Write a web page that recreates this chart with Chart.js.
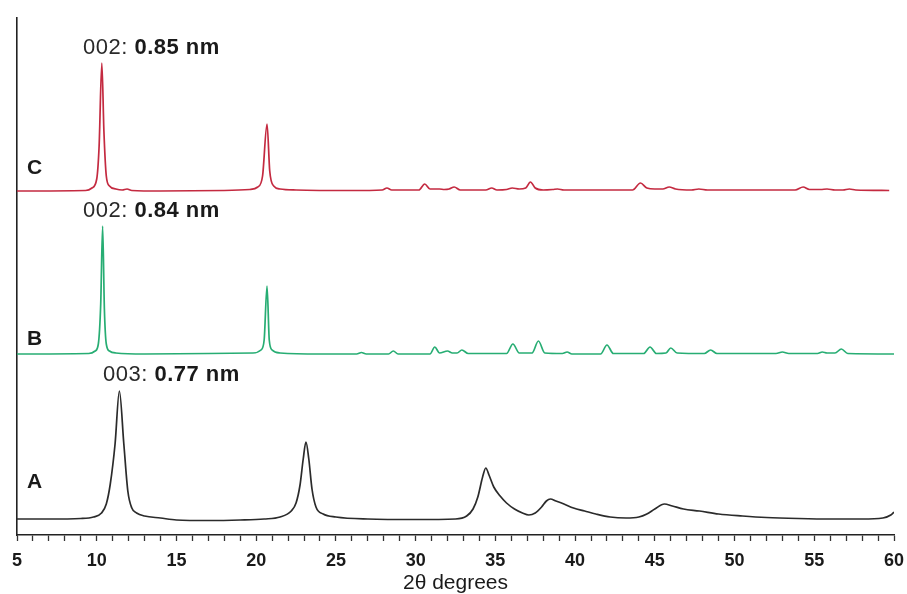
<!DOCTYPE html>
<html>
<head>
<meta charset="utf-8">
<script src="https://cdn.jsdelivr.net/npm/chart.js@4"></script>
<style>
  html, body { margin: 0; padding: 0; background: #fff; }
  #wrap { width: 907px; height: 594px; }
</style>
</head>
<body>
<div id="wrap"><canvas id="xrd"></canvas></div>
<script>
// 2-theta positions and intensities (intensity above each trace's own baseline)
const xsA = [5, 7, 9, 9.8, 10.3, 10.6, 10.85, 11.15, 11.42, 11.7, 11.95, 12.2, 12.5, 13, 14, 15, 17, 19, 20.5, 21.5, 22.2, 22.5, 22.75, 22.95, 23.12, 23.3, 23.5, 23.75, 24.2, 25, 27, 30, 32.5, 33.2, 33.6, 33.9, 34.2, 34.4, 34.6, 34.9, 35.3, 35.7, 36.2, 36.7, 37.1, 37.5, 37.9, 38.2, 38.45, 38.8, 39.3, 39.9, 40.6, 41.3, 42.2, 43.2, 44, 44.5, 45, 45.6, 46.1, 46.8, 47.8, 49, 50.5, 52, 54, 56, 58, 59.3, 59.8, 60];
const ysA = [0, 0, 0.5, 2, 6, 15, 35, 75, 128, 75, 28, 11, 6, 3, 1, -1, -1.5, -1, 0, 2, 8, 16, 34, 60, 77, 60, 30, 12, 5, 2, 0, -0.5, 0, 3, 10, 22, 42, 51, 44, 32, 23, 16, 10, 6, 4, 6, 12, 18, 20, 18, 15, 11, 8, 5, 2, 1, 2, 5, 10, 15, 13, 10, 8, 5, 3, 1.5, 0.5, 0, 0, 1, 4, 7];

const xsB = [5, 9.5, 9.9, 10.1, 10.25, 10.37, 10.48, 10.6, 10.8, 11.2, 13, 17, 19.8, 20.3, 20.5, 20.68, 20.82, 21, 21.5, 24, 26.3, 26.6, 26.9, 28.3, 28.6, 28.9, 30.9, 31.2, 31.5, 32, 32.3, 32.6, 32.9, 33.3, 35.7, 36.1, 36.5, 37.3, 37.7, 38.1, 39.2, 39.5, 39.8, 41.6, 42, 42.4, 44.3, 44.7, 45.1, 45.7, 46, 46.4, 48.1, 48.5, 48.9, 52.6, 53, 53.4, 55.2, 55.5, 55.8, 56.3, 56.7, 57.1, 60];
const ysB = [0, 0.5, 3, 10, 50, 128, 45, 10, 3, 1, 0, 0.5, 1, 4, 14, 68, 14, 4, 1, 0, 0, 1.5, 0, 0, 3, 0, 0, 7, 1, 3, 1, 1, 4, 0.5, 0.5, 10, 1, 1, 13, 1, 0.5, 2, 0, 0, 9, 0.5, 0.5, 7, 0.5, 1, 6, 1, 0.5, 4, 0.5, 0.5, 2, 0.5, 0.5, 2, 1, 1, 5, 0.5, 0];

const xsC = [5, 9.3, 9.7, 10, 10.15, 10.32, 10.45, 10.6, 10.8, 11.2, 11.6, 11.9, 12.2, 14, 18, 19.6, 20.1, 20.4, 20.68, 20.85, 21.1, 21.5, 22.5, 26, 27.9, 28.2, 28.5, 30.2, 30.57, 30.9, 31.2, 31.5, 31.8, 32.1, 32.42, 32.8, 34.4, 34.77, 35.1, 35.7, 36.06, 36.5, 36.9, 37.2, 37.5, 38, 38.6, 38.9, 39.3, 43.6, 44.1, 44.5, 45, 45.5, 45.9, 46.3, 47.3, 47.76, 48.3, 53.8, 54.3, 54.7, 55.4, 55.8, 56.3, 56.8, 57.2, 57.6, 59.7];
const ysC = [0, 0.5, 3, 12, 45, 128, 60, 15, 5, 2, 1, 2, 0.5, 0, 0.5, 1.5, 4, 15, 67, 20, 5, 2, 1, 0.5, 1, 3, 1, 1, 7, 2, 2, 2, 1.5, 2, 4, 1, 1, 3, 1, 1.5, 3, 2, 3, 9, 3, 1, 1.5, 2, 1, 1, 8, 3, 2, 2, 4, 2, 1, 2, 1, 1, 4, 1.5, 1.5, 2, 1, 1, 2, 1, 0.5];

// vertical stacking offsets of the three patterns
const offsetA = 16;
const offsetB = 181;
const offsetC = 344;

const sampleLabels = ['A', 'B', 'C'];
const peakIndex = ['003: ', '002: ', '002: '];
const peakSpacing = ['0.77 nm', '0.84 nm', '0.85 nm'];

const xTicks = [5, 10, 15, 20, 25, 30, 35, 40, 45, 50, 55, 60];

function toPoints(xs, ys, offset) {
    return xs.map((x, i) => ({ x: x, y: ys[i] + offset }));
}

const FONT = '"Liberation Sans", Arial, Helvetica, sans-serif';

// sample letters and peak labels
const labelPlugin = {
    id: 'xrdLabels',
    afterDraw(chart) {
        const ctx = chart.ctx;
        ctx.save();
        ctx.textBaseline = 'middle';
        ctx.fillStyle = '#1a1a1a';

        // A / B / C at left of each trace
        const letterPos = [[27, 482], [27, 339], [27, 168]];
        ctx.font = 'bold 21px ' + FONT;
        sampleLabels.forEach((s, i) => {
            ctx.fillText(s, letterPos[i][0], letterPos[i][1]);
        });

        // "hkl: d-spacing" above the first reflection
        const notePos = [[103, 375], [83, 211], [83, 48]];
        ctx.letterSpacing = '0.5px';
        peakIndex.forEach((idx, i) => {
            let x = notePos[i][0];
            const y = notePos[i][1];
            ctx.font = '22px ' + FONT;
            ctx.fillStyle = '#2a2a2a';
            ctx.fillText(idx, x, y);
            x += ctx.measureText(idx).width;
            ctx.font = 'bold 22px ' + FONT;
            ctx.fillStyle = '#1a1a1a';
            ctx.fillText(peakSpacing[i], x, y);
        });
        ctx.restore();
    }
};

new Chart(document.getElementById('xrd'), {
    type: 'line',
    data: {
        datasets: [
            {
                label: 'A',
                data: toPoints(xsA, ysA, offsetA),
                borderColor: '#2b2b2b',
                borderWidth: 1.7
            },
            {
                label: 'B',
                data: toPoints(xsB, ysB, offsetB),
                borderColor: '#27ad73',
                borderWidth: 1.7
            },
            {
                label: 'C',
                data: toPoints(xsC, ysC, offsetC),
                borderColor: '#c42a40',
                borderWidth: 1.7
            }
        ]
    },
    options: {
        responsive: true,
        maintainAspectRatio: false,
        animation: false,
        elements: {
            point: { radius: 0 },
            line: { cubicInterpolationMode: 'monotone', fill: false }
        },
        layout: {
            padding: { left: 17, right: 13, top: 18, bottom: 0 }
        },
        plugins: {
            legend: { display: false },
            tooltip: { enabled: false }
        },
        scales: {
            x: {
                type: 'linear',
                min: 5,
                max: 60,
                afterFit(scale) {
                    scale.height = 59;
                    scale.paddingLeft = 0;
                    scale.paddingRight = 0;
                },
                ticks: {
                    stepSize: 1,
                    autoSkip: false,
                    maxRotation: 0,
                    padding: 9,
                    color: '#1a1a1a',
                    font: { family: FONT, size: 18, weight: 'bold' },
                    callback: (v) => xTicks.includes(v) ? String(v) : ''
                },
                grid: {
                    drawOnChartArea: false,
                    tickLength: 6,
                    tickWidth: 1.3,
                    tickColor: '#333'
                },
                border: { display: true, color: '#222', width: 1.6 },
                title: {
                    display: true,
                    text: '2θ degrees',
                    color: '#1a1a1a',
                    font: { family: FONT, size: 21, lineHeight: 1 },
                    padding: { top: 0, bottom: 0 }
                }
            },
            y: {
                min: 0,
                max: 517,
                afterFit(scale) { scale.width = 0; },
                ticks: { display: false },
                grid: { display: false, drawTicks: false },
                border: { display: true, color: '#222', width: 1.6 }
            }
        }
    },
    plugins: [labelPlugin]
});
</script>
</body>
</html>
